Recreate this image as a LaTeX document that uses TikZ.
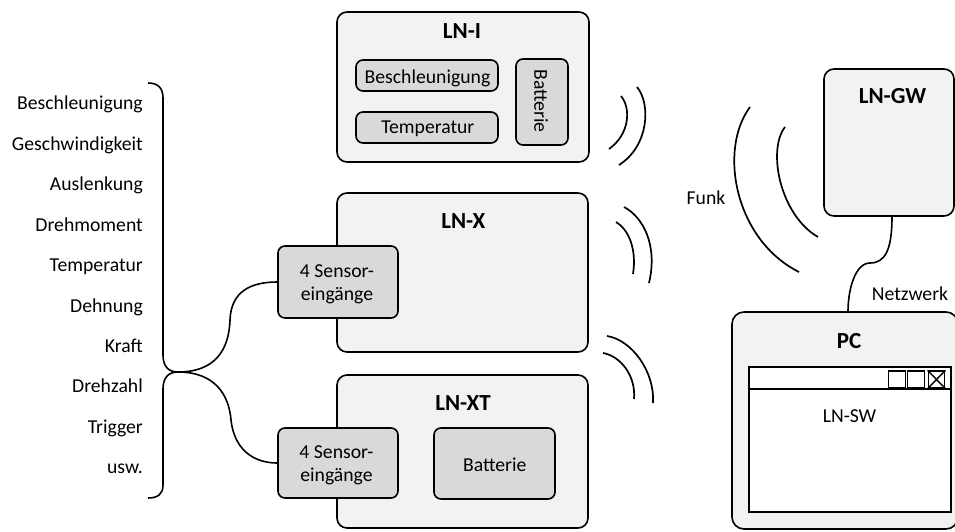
\documentclass[tikz,border=0pt]{standalone}
\usepackage{fontspec}
\setmainfont{Carlito}
\definecolor{boxfill}{HTML}{F2F2F2}
\definecolor{innerfill}{HTML}{D9D9D9}
\begin{document}
\begin{tikzpicture}[x=1pt,y=-1pt,
  every node/.style={font=\fontsize{19.7}{23}\selectfont},
  bigbox/.style={draw, line width=1.6pt, fill=boxfill, rounded corners=10pt, inner sep=0pt},
  smallbox/.style={draw, line width=1.6pt, fill=innerfill, rounded corners=7pt, inner sep=0pt},
  lbl/.style={inner sep=0pt, anchor=base},
  listlbl/.style={inner sep=0pt, anchor=base east},
  ttl/.style={inner sep=0pt, anchor=base, font=\fontsize{23}{27}\selectfont\bfseries},
  wave/.style={line width=1.7pt},
  wire/.style={line width=1.6pt},
  btn/.style={draw, line width=1.4pt, fill=white, minimum width=16.5pt, minimum height=17pt, inner sep=0pt}]
\useasboundingbox (0,0) rectangle (955,532);

% LN-I
\node[bigbox, minimum width=252pt, minimum height=150pt] (lni) at (463,87) {};
\node[ttl] (tlni) at (462,39) {LN-I};
\node[smallbox, minimum width=142pt, minimum height=31pt] (besch) at (427,75.5) {};
\node[lbl] (tbesch) at (427.5,83.3) {Beschleunigung};
\node[smallbox, minimum width=142pt, minimum height=31pt] (temp) at (427,127.5) {};
\node[lbl] (ttemp) at (427.8,134) {Temperatur};
\node[smallbox, minimum width=52pt, minimum height=86pt] (batti) at (542,102) {};
\node[inner sep=0pt, rotate=-90] (tbatti) at (541,101) {Batterie};

% LN-X
\node[bigbox, minimum width=251pt, minimum height=159pt] (lnx) at (462.5,272.5) {};
\node[ttl] (tlnx) at (463.3,228) {LN-X};
\node[smallbox, minimum width=120pt, minimum height=72pt] (sx) at (338,282) {};
\node[lbl, align=center] (tsx) at (337,300) {4 Sensor-\\eingänge};

% LN-XT
\node[bigbox, minimum width=251pt, minimum height=153pt] (lnxt) at (462.5,451.5) {};
\node[ttl] (tlnxt) at (463,410) {LN-XT};
\node[smallbox, minimum width=120pt, minimum height=70pt] (sxt) at (338,463) {};
\node[lbl, align=center] (tsxt) at (336.5,481.5) {4 Sensor-\\eingänge};
\node[smallbox, minimum width=121pt, minimum height=71pt] (battxt) at (494.5,463.5) {};
\node[lbl] (tbattxt) at (494.7,471.7) {Batterie};

% LN-GW
\node[bigbox, minimum width=130pt, minimum height=147pt] (gw) at (889,142.5) {};
\node[ttl] (tgw) at (892.5,103) {LN-GW};

% PC
\node[bigbox, rounded corners=12pt, minimum width=226pt, minimum height=217pt] (pc) at (845,420.5) {};
\node[ttl] (tpc) at (849,348) {PC};
\node[draw, line width=1.6pt, fill=white, minimum width=202pt, minimum height=145pt, inner sep=0pt] (win) at (850,439.5) {};
\draw[line width=1.6pt] ([yshift=-23pt]win.north west) -- ([yshift=-23pt]win.north east);
\node[btn] (b1) at (897,379.5) {};
\node[btn] (b2) at (916,379.5) {};
\node[btn] (b3) at (936.5,379.5) {};
\draw[line width=1.4pt] (b3.north west) -- (b3.south east) (b3.north east) -- (b3.south west);
\node[lbl] (tsw) at (849.5,422) {LN-SW};

% Netzwerk
\draw[wire] ([xshift=3pt]gw.south) .. controls (892,250) and (885,263) .. (870,263) .. controls (855,263) and (848,290) .. ([xshift=3pt]pc.north);
\node[lbl] (tnet) at (910,300) {Netzwerk};

% Funk
\node[lbl] (tfunk) at (706,204) {Funk};
\draw[wave] (750,107) .. controls (718,150) and (735,240) .. (799,272);
\draw[wave] (785,127) .. controls (767,150) and (780,215) .. (818,237);

% waves from nodes
\draw[wave] (621,96) .. controls (631,108) and (630,134) .. (609,149);
\draw[wave] (637,87) .. controls (651,104) and (649,146) .. (619,165);
\draw[wave] (616,222) .. controls (628,229) and (637,248) .. (633,274);
\draw[wave] (624,207) .. controls (643,217) and (658,245) .. (649,283);
\draw[wave] (603,353) .. controls (620,356) and (636,375) .. (634,399);
\draw[wave] (607,336) .. controls (632,340) and (655,372) .. (653,403);

% list
\node[listlbl] (l1) at (143,110) {Beschleunigung};
\node[listlbl] (l2) at (143,150.4) {Geschwindigkeit};
\node[listlbl] (l3) at (143,190.8) {Auslenkung};
\node[listlbl] (l4) at (143,231.2) {Drehmoment};
\node[listlbl] (l5) at (143,271.6) {Temperatur};
\node[listlbl] (l6) at (143,312) {Dehnung};
\node[listlbl] (l7) at (143,352.4) {Kraft};
\node[listlbl] (l8) at (143,392.8) {Drehzahl};
\node[listlbl] (l9) at (143,433.2) {Trigger};
\node[listlbl] (l10) at (143,473.6) {usw.};

% brace and connectors
\coordinate (btop) at (148,83);
\coordinate (bbot) at (148,498);
\coordinate (j) at (178,372);
\draw[wire] (btop) .. controls (158,83) and (163,88) .. (163,98) -- (163,355) .. controls (163,366) and (168,372) .. (j);
\draw[wire] (j) .. controls (168,372) and (163,378) .. (163,389) -- (163,485) .. controls (163,494) and (158,498) .. (bbot);
\draw[wire] (j) .. controls (215,372) and (229,350) .. (230,320) .. controls (231,292) and (250,282) .. (sx.west);
\draw[wire] (j) .. controls (215,372) and (229,395) .. (231,420) .. controls (234,448) and (252,463) .. (sxt.west);
\end{tikzpicture}
\end{document}
